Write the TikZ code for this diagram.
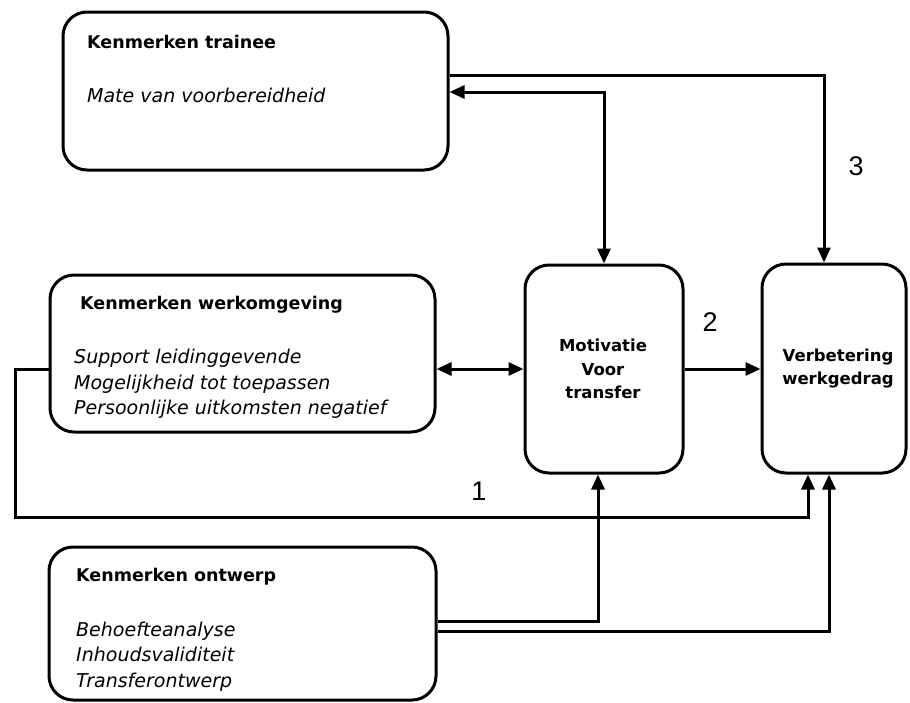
\documentclass[tikz,border=0pt]{standalone}
\usepackage{fontspec}
\setmainfont{DejaVu Sans}
\newfontfamily\numfont{Liberation Sans}
\usetikzlibrary{arrows.meta}
\begin{document}
\begin{tikzpicture}[x=1pt,y=-1pt,
  box/.style={draw=black, line width=3pt, rounded corners=24pt, fill=white, inner sep=0pt},
  title/.style={anchor=west, inner sep=0pt, font=\fontsize{17.5}{21}\selectfont\bfseries},
  item/.style={anchor=west, inner sep=0pt, align=left, font=\fontsize{19}{25.5}\selectfont\itshape},
  centre/.style={inner sep=0pt, align=center, font=\fontsize{16.5}{23.5}\selectfont\bfseries},
  num/.style={inner sep=0pt, font=\fontsize{27}{30}\selectfont\numfont},
  arr/.style={line width=3pt, -{Triangle[length=15pt,width=13pt]}},
  darr/.style={line width=3pt, {Triangle[length=15pt,width=13pt]}-{Triangle[length=15pt,width=13pt]}}]
\useasboundingbox[fill=white] (0,0) rectangle (910,702);

% boxes
\node[box, minimum width=385pt, minimum height=158pt] (trainee) at (255.5,91) {};
\node[box, minimum width=385pt, minimum height=157pt] (werk) at (242.5,353.5) {};
\node[box, minimum width=387pt, minimum height=153pt] (ontw) at (242.5,623.5) {};
\node[box, minimum width=158pt, minimum height=208pt] (motiv) at (604,369) {};
\node[box, minimum width=144pt, minimum height=209pt] (verb) at (834,368.5) {};

% box texts
\node[title] (traineeT) at (87,42) {Kenmerken trainee};
\node[item] (traineeI) at (87,95) {Mate van voorbereidheid};
\node[title] (werkT) at (80,305) {Kenmerken werkomgeving};
\node[item] (werkI) at (74,384) {Support leidinggevende\\Mogelijkheid tot toepassen\\Persoonlijke uitkomsten negatief};
\node[title] (ontwT) at (76,577) {Kenmerken ontwerp};
\node[item] (ontwI) at (76,656.5) {Behoefteanalyse\\Inhoudsvaliditeit\\Transferontwerp};
\node[centre] (motivT) at (603,369) {Motivatie\\Voor\\transfer};
\node[centre] (verbT) at (838,368.5) {Verbetering\\werkgedrag};

% bend point of the route below the boxes
\coordinate (loopL) at (15,517);

% connectors
\draw[arr] ([yshift=16pt]trainee.east) -| ([xshift=-10pt]verb.north);
\draw[darr] ([yshift=-1pt]trainee.east) -| (motiv.north);
\draw[darr] (werk.east |- motiv.west) -- (motiv.west);
\draw[arr] (motiv.east) -- (motiv.east -| verb.west);
\draw[arr] (werk.west |- motiv.west) -| (loopL) -| ([xshift=-26pt]verb.south);
\draw[arr] ([yshift=2.5pt]ontw.east) -| ([xshift=-6pt]motiv.south);
\draw[arr] ([yshift=-7.5pt]ontw.east) -| ([xshift=-5pt]verb.south);

% path numbers
\node[num] (n1) at (479,491) {1};
\node[num] (n2) at (710,322) {2};
\node[num] (n3) at (856,166) {3};
\end{tikzpicture}
\end{document}
